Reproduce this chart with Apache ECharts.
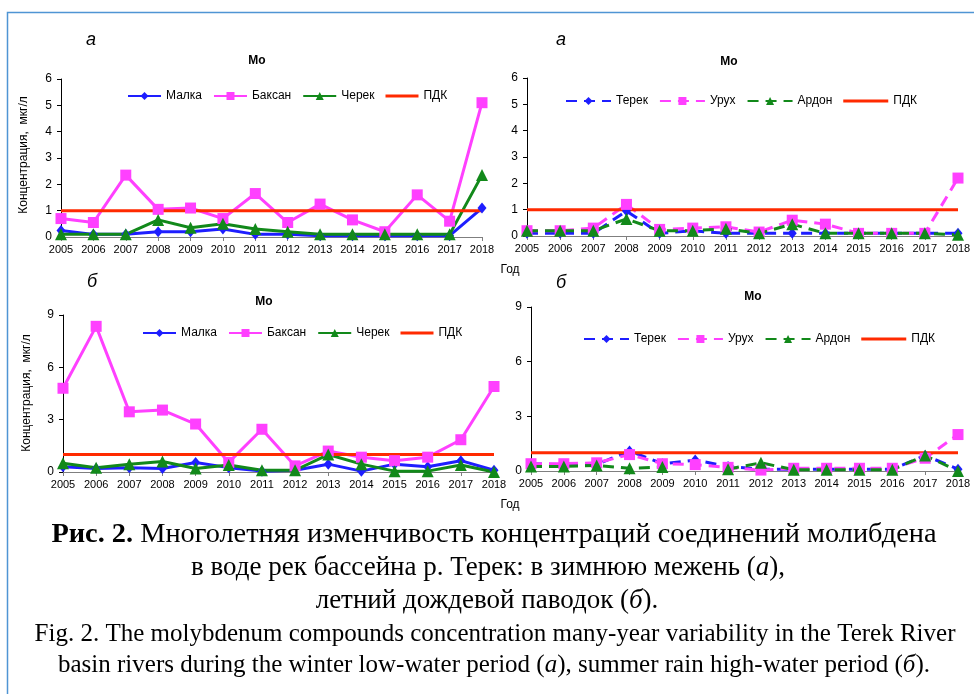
<!DOCTYPE html>
<html>
<head>
<meta charset="utf-8">
<script src="https://cdn.jsdelivr.net/npm/echarts@6/dist/echarts.min.js"></script>
<style>
html,body{margin:0;padding:0;background:#fff;}
#chart{width:974px;height:694px;}
</style>
</head>
<body>
<div id="chart"></div>
<script>
const years = ['2005','2006','2007','2008','2009','2010','2011','2012','2013','2014','2015','2016','2017','2018'];
const pdk = [1,1,1,1,1,1,1,1,1,1,1,1,1,1];

// winter low-water (а)
const winterMalka  = [0.25,0.1,0.1,0.2,0.2,0.3,0.1,0.1,0.05,0.05,0.05,0.05,0.05,1.1];
const winterBaksan = [0.7,0.55,2.35,1.05,1.1,0.7,1.65,0.55,1.25,0.65,0.2,1.6,0.6,5.1];
const winterCherek = [0.1,0.1,0.1,0.65,0.35,0.5,0.3,0.2,0.1,0.1,0.1,0.1,0.1,2.35];
const winterTerek  = [0.1,0.1,0.1,0.95,0.1,0.2,0.1,0.1,0.1,0.1,0.1,0.1,0.1,0.1];
const winterUrukh  = [0.2,0.2,0.3,1.2,0.25,0.3,0.35,0.15,0.6,0.45,0.1,0.1,0.1,2.2];
const winterArdon  = [0.2,0.2,0.2,0.65,0.2,0.2,0.28,0.1,0.45,0.1,0.1,0.1,0.1,0.05];

// summer rain flood (б)
const summerMalka  = [0.3,0.2,0.25,0.2,0.55,0.25,0.05,0.1,0.45,0.05,0.45,0.3,0.65,0.1];
const summerBaksan = [4.8,8.35,3.45,3.55,2.75,0.55,2.45,0.35,1.2,0.85,0.65,0.85,1.85,4.9];
const summerCherek = [0.5,0.25,0.45,0.6,0.2,0.4,0.1,0.1,1.0,0.45,0.05,0.05,0.4,0];
const summerTerek  = [0.4,0.35,0.35,1.1,0.4,0.6,0.25,0.1,0.1,0.1,0.1,0.1,0.85,0.1];
const summerUrukh  = [0.4,0.4,0.45,0.9,0.4,0.35,0.2,0.05,0.15,0.15,0.15,0.15,0.7,2.0];
const summerArdon  = [0.25,0.25,0.3,0.15,0.22,null,0.1,0.45,0.07,0.07,0.07,0.07,0.85,0];

const yTicksTop = [0,1,2,3,4,5,6];
const yTicksBottom = [0,3,6,9];

const SANS = 'Liberation Sans, Arial, sans-serif';
const SERIF = 'Liberation Serif, Times New Roman, serif';
const BLUE = '#1e1eff', PINK = '#ff40ff', GREEN = '#12891a', RED = '#ff2a00';

const chart = echarts.init(document.getElementById('chart'), null, {renderer:'canvas'});

const grids = [
  {left:61, top:79, width:421, height:158},
  {left:527, top:78, width:431, height:158},
  {left:63, top:315, width:431, height:157},
  {left:531, top:307, width:427, height:164}
];

function xAx(i){
  return {
    type:'category', gridIndex:i, data:years, boundaryGap:false,
    axisLine:{lineStyle:{color:'#7f7f7f', width:1}},
    axisTick:{show:true, length:4, lineStyle:{color:'#7f7f7f'}},
    axisLabel:{color:'#000', fontFamily:SANS, fontSize:11, margin:7, interval:0},
    splitLine:{show:false}
  };
}
function yAx(i, ticks){
  return {
    type:'value', gridIndex:i, min:ticks[0], max:ticks[ticks.length-1],
    interval:ticks[1]-ticks[0],
    axisLine:{show:true, lineStyle:{color:'#000', width:1}},
    axisTick:{show:true, length:4, lineStyle:{color:'#000'}},
    axisLabel:{color:'#000', fontFamily:SANS, fontSize:12, margin:9},
    splitLine:{show:false}
  };
}

function solid(name, data, color, symbol, size, i){
  return {name, type:'line', xAxisIndex:i, yAxisIndex:i, data,
    symbol, symbolSize:size, showSymbol:true, connectNulls:false,
    itemStyle:{color}, lineStyle:{color, width:3}, animation:false};
}
function dashed(name, data, color, symbol, size, i){
  return {name, type:'line', xAxisIndex:i, yAxisIndex:i, data,
    symbol, symbolSize:size, showSymbol:true, connectNulls:false,
    itemStyle:{color}, lineStyle:{color, width:3, type:[11,7]}, animation:false};
}
function pdkSeries(i){
  return {name:'ПДК', type:'line', xAxisIndex:i, yAxisIndex:i, data:pdk,
    symbol:'none', itemStyle:{color:RED}, lineStyle:{color:RED, width:3}, animation:false, z:3};
}

const DIAM = 'diamond', SQ = 'rect', TRI = 'triangle';

const series = [
  solid('Малка', winterMalka, BLUE, DIAM, [9,11], 0),
  solid('Баксан', winterBaksan, PINK, SQ, 11, 0),
  solid('Черек', winterCherek, GREEN, TRI, 12, 0),
  pdkSeries(0),
  dashed('Терек', winterTerek, BLUE, DIAM, [9,11], 1),
  dashed('Урух', winterUrukh, PINK, SQ, 11, 1),
  dashed('Ардон', winterArdon, GREEN, TRI, 12, 1),
  pdkSeries(1),
  solid('Малка', summerMalka, BLUE, DIAM, [9,11], 2),
  solid('Баксан', summerBaksan, PINK, SQ, 11, 2),
  solid('Черек', summerCherek, GREEN, TRI, 12, 2),
  pdkSeries(2),
  dashed('Терек', summerTerek, BLUE, DIAM, [9,11], 3),
  dashed('Урух', summerUrukh, PINK, SQ, 11, 3),
  dashed('Ардон', summerArdon, GREEN, TRI, 12, 3),
  pdkSeries(3)
];

function legend(names, left, top, w){
  const data = names.map(n => n === 'ПДК'
    ? {name:n, icon:'path://M0,0H' + w + 'V3H0Z'}
    : n);
  return {data, left, top, orient:'horizontal', itemWidth:w, itemHeight:10, itemGap:11,
    textStyle:{fontFamily:SANS, fontSize:12, color:'#000'}, selectedMode:false, padding:0};
}

const leftNames = ['Малка','Баксан','Черек','ПДК'];
const rightNames = ['Терек','Урух','Ардон','ПДК'];

function txt(text, x, y, extra){
  return Object.assign({type:'text', x, y, silent:true,
    style:Object.assign({text, fill:'#000', align:'center', verticalAlign:'middle',
      font:'11px ' + SANS}, extra||{})});
}

const rich = {
  b:{fontFamily:SERIF, fontSize:27, fontWeight:'bold', fill:'#000'},
  i:{fontFamily:SERIF, fontSize:27, fontStyle:'italic', fill:'#000'},
  n:{fontFamily:SERIF, fontSize:27, fill:'#000'}
};
const richE = {
  i:{fontFamily:SERIF, fontSize:25, fontStyle:'italic', fill:'#000'},
  n:{fontFamily:SERIF, fontSize:25, fill:'#000'}
};

const graphic = [
  {type:'rect', shape:{x:7.5, y:12.5, width:1000, height:800}, silent:true,
    style:{fill:'none', stroke:'#4f95d4', lineWidth:1.5}},
  txt('а', 91, 40, {font:'italic 18px ' + SANS}),
  txt('а', 561, 40, {font:'italic 18px ' + SANS}),
  txt('б', 92, 282, {font:'italic 18px ' + SANS}),
  txt('б', 561, 283, {font:'italic 18px ' + SANS}),
  txt('Mo', 257, 61, {font:'bold 12px ' + SANS}),
  txt('Mo', 729, 62, {font:'bold 12px ' + SANS}),
  txt('Mo', 264, 302, {font:'bold 12px ' + SANS}),
  txt('Mo', 753, 297, {font:'bold 12px ' + SANS}),
  txt('Год', 510, 270, {font:'12px ' + SANS}),
  txt('Год', 510, 505, {font:'12px ' + SANS}),
  Object.assign(txt('Концентрация,  мкг/л', 24, 155, {font:'12px ' + SANS}), {rotation:Math.PI/2}),
  Object.assign(txt('Концентрация,  мкг/л', 27, 393, {font:'12px ' + SANS}), {rotation:Math.PI/2}),
  {type:'text', x:494, y:535, scaleX:1.05, silent:true, style:{text:'{b|Рис. 2.}{n| Многолетняя изменчивость концентраций соединений молибдена}', rich, align:'center', verticalAlign:'middle'}},
  {type:'text', x:488, y:568, silent:true, style:{text:'{n|в воде рек бассейна р. Терек: в зимнюю межень (}{i|а}{n|),}', rich, align:'center', verticalAlign:'middle'}},
  {type:'text', x:487, y:601, silent:true, style:{text:'{n|летний дождевой паводок (}{i|б}{n|).}', rich, align:'center', verticalAlign:'middle'}},
  {type:'text', x:495, y:634, silent:true, style:{text:'{n|Fig. 2. The molybdenum compounds concentration many-year variability in the Terek River}', rich:richE, align:'center', verticalAlign:'middle'}},
  {type:'text', x:494, y:665, silent:true, style:{text:'{n|basin rivers during the winter low-water period (}{i|а}{n|), summer rain high-water period (}{i|б}{n|).}', rich:richE, align:'center', verticalAlign:'middle'}}
];

chart.setOption({
  animation:false,
  backgroundColor:'#fff',
  grid:grids,
  xAxis:[xAx(0), xAx(1), xAx(2), xAx(3)],
  yAxis:[yAx(0, yTicksTop), yAx(1, yTicksTop), yAx(2, yTicksBottom), yAx(3, yTicksBottom)],
  legend:[
    legend(leftNames, 127, 90, 33),
    legend(rightNames, 565, 95, 45),
    legend(leftNames, 142, 327, 33),
    legend(rightNames, 583, 333, 45)
  ],
  series,
  graphic
});
</script>
</body>
</html>
